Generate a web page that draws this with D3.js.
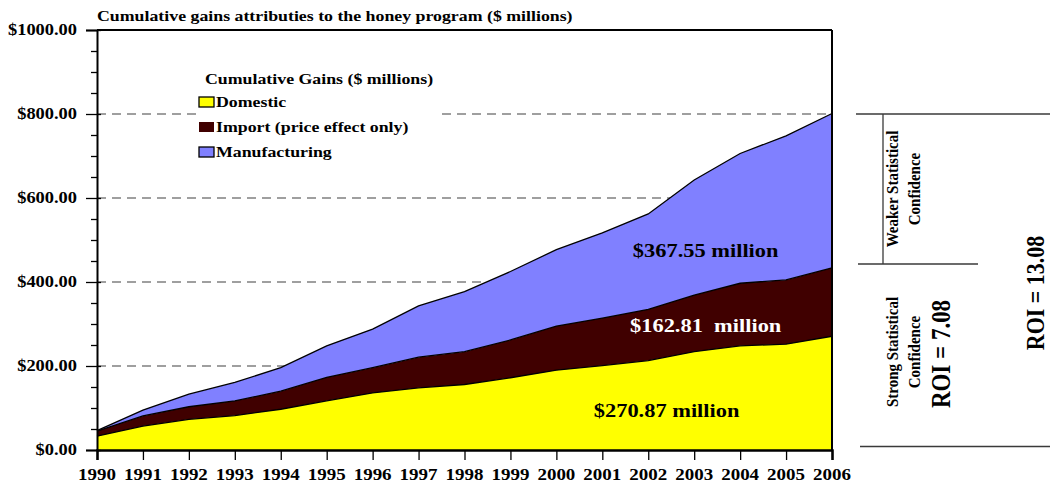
<!DOCTYPE html>
<html>
<head>
<meta charset="utf-8">
<script src="https://cdn.jsdelivr.net/npm/d3@7"></script>
<style>
  body { margin: 0; background: #fff; }
  svg { display: block; }
  text { font-family: "Liberation Serif", "Times New Roman", serif; font-weight: bold; fill: #000; white-space: pre; }
</style>
</head>
<body>
<svg id="chart" width="1050" height="486"></svg>
<script>
// Cumulative gains by year, $ millions
const years = [1990, 1991, 1992, 1993, 1994, 1995, 1996, 1997, 1998, 1999, 2000, 2001, 2002, 2003, 2004, 2005, 2006];
const domestic = [33, 57, 73, 82, 97, 117, 136, 148, 156, 172, 190, 201, 213, 234, 248, 252, 270.87];
const importGain = [12, 24, 30, 35, 43, 56, 60, 73, 78, 90, 105, 113, 122, 135, 149, 153, 162.81];
const manufacturing = [1, 14, 30, 44, 56, 75, 92, 122, 143, 163, 182, 203, 227, 274, 309, 343, 367.55];

const seriesKeys = ["domestic", "import", "manufacturing"];
const seriesNames = ["Domestic", "Import (price effect only)", "Manufacturing"];
const seriesColors = ["#ffff00", "#400000", "#8080ff"];

const yMajorTicks = [0, 200, 400, 600, 800, 1000];
const yMinorTicks = [50, 100, 150, 250, 300, 350, 450, 500, 550, 650, 700, 750, 850, 900, 950];
const gridValues = [200, 400, 600, 800];

const svg = d3.select("#chart");
const stretch = 1.15; // horizontal text stretch

const x = d3.scaleLinear().domain([1990, 2006]).range([97, 832]);
const y = d3.scaleLinear().domain([0, 1000]).range([450, 30]);

// text helper: horizontally stretched, optional rotation
function label(g, px, py, str, size, opts = {}) {
  const t = g.append("text")
    .attr("transform", `translate(${px},${py}) scale(${stretch},1)` + (opts.rotate ? ` rotate(${opts.rotate})` : ""))
    .attr("font-size", size)
    .attr("text-anchor", opts.anchor || "start")
    .attr("dominant-baseline", "central")
    .text(str);
  if (opts.fill) t.style("fill", opts.fill);
  return t;
}

// table for stacking
const table = years.map((yr, i) => ({
  year: yr,
  domestic: domestic[i],
  import: importGain[i],
  manufacturing: manufacturing[i]
}));
const stacked = d3.stack().keys(seriesKeys)(table);

// dashed gridlines
svg.append("g").selectAll("line").data(gridValues).join("line")
  .attr("x1", x(1990)).attr("x2", x(2006))
  .attr("y1", d => y(d)).attr("y2", d => y(d))
  .attr("stroke", "#808080").attr("stroke-width", 1.5)
  .attr("stroke-dasharray", "9,6");

// stacked areas
const area = d3.area()
  .x(d => x(d.data.year))
  .y0(d => y(d[0]))
  .y1(d => y(d[1]));
svg.append("g").selectAll("path").data(stacked).join("path")
  .attr("d", area)
  .attr("fill", (d, i) => seriesColors[i]);

// boundary lines on top of each layer
const topLine = d3.line().x(d => x(d.data.year)).y(d => y(d[1]));
svg.append("g").selectAll("path").data(stacked).join("path")
  .attr("d", topLine)
  .attr("fill", "none")
  .attr("stroke", "#000")
  .attr("stroke-width", 1.3);

// plot frame: top and right edges
svg.append("line").attr("x1", x(1990)).attr("x2", x(2006)).attr("y1", y(1000)).attr("y2", y(1000))
  .attr("stroke", "#000").attr("stroke-width", 2);
svg.append("line").attr("x1", x(2006)).attr("x2", x(2006)).attr("y1", y(1000)).attr("y2", y(0))
  .attr("stroke", "#000").attr("stroke-width", 2);

// y axis: major ticks crossing the axis, minor ticks outside
const yAxisG = svg.append("g").attr("transform", `translate(${x(1990)},0)`)
  .call(d3.axisLeft(y).tickValues(yMajorTicks).tickSize(11).tickFormat(() => ""));
yAxisG.select(".domain").attr("stroke-width", 2);
yAxisG.selectAll(".tick line").attr("x2", 4).attr("x1", -11).attr("stroke-width", 1.3);
const yMinorG = svg.append("g").attr("transform", `translate(${x(1990)},0)`)
  .call(d3.axisLeft(y).tickValues(yMinorTicks).tickSize(6).tickFormat(() => ""));
yMinorG.select(".domain").remove();
yMinorG.selectAll(".tick line").attr("stroke-width", 1.3);

const yLabels = svg.append("g");
yMajorTicks.forEach(v => label(yLabels, 77, y(v), "$" + v.toFixed(2), 16, { anchor: "end" }));

// x axis
const xAxisG = svg.append("g").attr("transform", `translate(0,${y(0)})`)
  .call(d3.axisBottom(x).tickValues(years).tickSize(10).tickFormat(() => ""));
xAxisG.select(".domain").attr("stroke-width", 2.5);
xAxisG.selectAll(".tick line").attr("stroke-width", 1.3);
const xLabels = svg.append("g");
years.forEach(yr => label(xLabels, x(yr), 474, String(yr), 16.5, { anchor: "middle" }));

// title
label(svg, 97, 16, "Cumulative gains attributies to the honey program ($ millions)", 15.5);

// legend
const legend = svg.append("g");
legend.append("rect").attr("x", 196).attr("y", 66).attr("width", 244).attr("height", 98).attr("fill", "#fff");
label(legend, 205, 79, "Cumulative Gains ($ millions)", 15.5);
seriesNames.forEach((name, i) => {
  const cy = 102 + i * 25;
  legend.append("rect")
    .attr("x", 199).attr("y", cy - 5).attr("width", 15).attr("height", 10)
    .attr("fill", seriesColors[i])
    .attr("stroke", i === 1 ? "none" : "#000").attr("stroke-width", 1.3);
  label(legend, 216, cy, name, 15.5);
});

// totals for 2006 written on each layer
const last = years.length - 1;
const fmt = v => "$" + v.toFixed(2);
label(svg, x(2003.25), y(474), fmt(manufacturing[last]) + " million", 19.5, { anchor: "middle" });
label(svg, x(2003.25), y(296), fmt(importGain[last]) + "  million", 19.5, { anchor: "middle", fill: "#fff" });
label(svg, x(2002.4), y(95), fmt(domestic[last]) + " million", 19.5, { anchor: "middle" });

// confidence / ROI panel to the right of the plot
const panel = svg.append("g");
const ln = (x1, y1, x2, y2) => panel.append("line").attr("x1", x1).attr("y1", y1).attr("x2", x2).attr("y2", y2)
  .attr("stroke", "#3a3a3a").attr("stroke-width", 1.3);
ln(856, y(800), 1050, y(800));
ln(858, 264, 978, 264);
ln(860, 446.5, 1050, 446.5);
ln(883, y(800), 883, 264);

label(panel, 892, 189, "Weaker Statistical", 15, { anchor: "middle", rotate: -90 });
label(panel, 914, 189, "Confidence", 15, { anchor: "middle", rotate: -90 });
label(panel, 892, 352, "Strong Statistical", 15, { anchor: "middle", rotate: -90 });
label(panel, 914, 352, "Confidence", 15, { anchor: "middle", rotate: -90 });
label(panel, 941, 354, "ROI = 7.08", 23, { anchor: "middle", rotate: -90 });
label(panel, 1035, 293, "ROI = 13.08", 22, { anchor: "middle", rotate: -90 });
</script>
</body>
</html>
